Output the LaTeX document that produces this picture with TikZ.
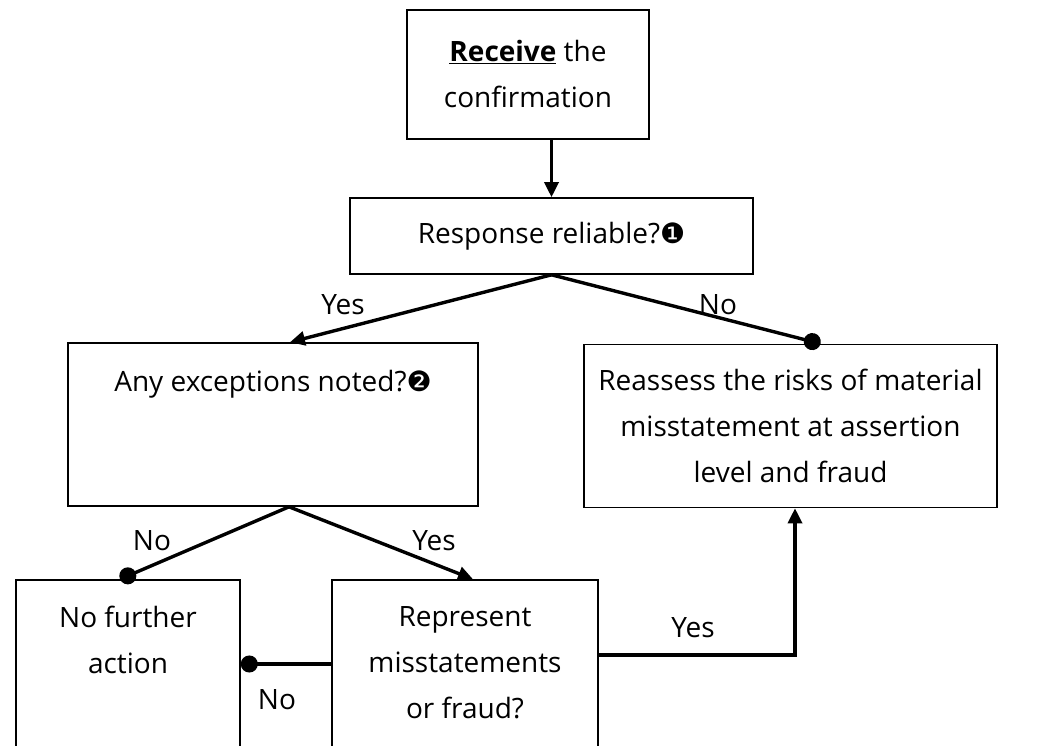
\documentclass[tikz,border=0pt]{standalone}
\usepackage{fontspec}
\setmainfont{Open Sans}
\newfontfamily\dingfont{DejaVu Sans}
\usetikzlibrary{calc,arrows.meta}
\newcommand{\circnum}[1]{{\dingfont #1}}
\begin{document}
\begin{tikzpicture}[x=1pt,y=-1pt,
  box/.style={draw,line width=1.6pt,rectangle,inner sep=0pt},
  txt/.style={align=center,inner sep=0pt,font=\fontsize{28}{46}\selectfont},
  conn/.style={line width=3.4pt},
  arr/.style={conn,-{Triangle[length=15pt,width=14pt]}},
  dot/.style={conn,-{Circle[length=17pt]}},
  lbl/.style={inner sep=0pt,font=\fontsize{28}{30}\selectfont}]
\clip (0,0) rectangle (1044,746);
\fill[white] (0,0) rectangle (1044,746);

% boxes
\node[box,txt,minimum width=242pt,minimum height=129pt] (receive) at (528,74.5)
  {\underline{\textbf{Receive}} the\\confirmation};
\node[box,txt,minimum width=403pt,minimum height=76pt] (resp) at (551.5,236)
  {Response reliable?\circnum{❶}};
\node[box,minimum width=410pt,minimum height=163pt] (exc) at (273,424.5) {};
\node[txt] (exctext) at (273,384) {Any exceptions noted?\circnum{❷}};
\node[box,txt,minimum width=413pt,minimum height=163pt] (reas) at (790.5,426)
  {Reassess the risks of material\\misstatement at assertion\\level and fraud};
\node[box,minimum width=224pt,minimum height=220pt] (nofa) at (128,690) {};
\node[txt] (nofatext) at (128,640) {No further\\action};
\node[box,minimum width=266pt,minimum height=220pt] (repr) at (465,690) {};
\node[txt] (reprtext) at (465,663) {Represent\\misstatements\\or fraud?};

% connectors
\draw[arr] (resp.north |- receive.south) -- (resp.north);
\draw[arr] (resp.south) -- ($(exc.north)+(17,0)$);
\draw[dot] (resp.south) -- ($(reas.north)+(30,0)$);
\coordinate (apex) at ($(exc.south)+(16,0)$);
\draw[dot] (apex) -- ($(nofa.north)+(-8,0)$);
\draw[arr] (apex) -- ($(repr.north)+(8,0)$);
\coordinate (noy) at (0,664);
\draw[dot] (repr.west |- noy) -- (nofa.east |- noy);
\coordinate (yesy) at (0,655);
\coordinate (bend) at ($(reas.south |- yesy)+(4.5,0)$);
\draw[arr,line join=miter] (repr.east |- yesy) -- (bend) -- (bend |- reas.south);

% branch labels
\node[lbl] (l1) at (343,305) {Yes};
\node[lbl] (l2) at (718,305) {No};
\node[lbl] (l3) at (152,541) {No};
\node[lbl] (l4) at (434,541) {Yes};
\node[lbl] (l5) at (277,700) {No};
\node[lbl] (l6) at (693,628) {Yes};
\end{tikzpicture}
\end{document}
